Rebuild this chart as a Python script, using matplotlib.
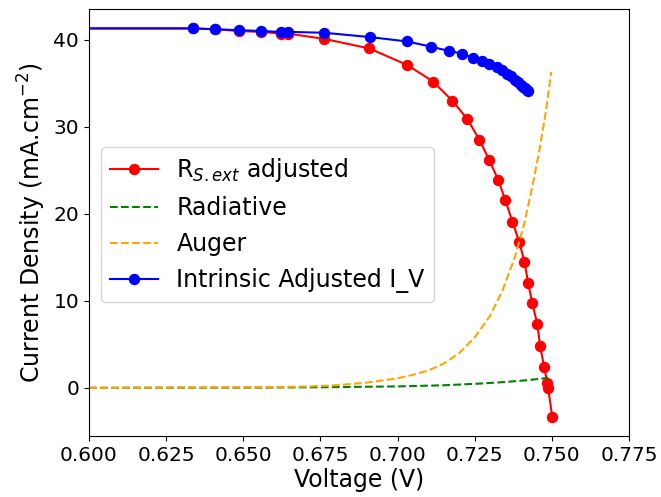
import matplotlib
matplotlib.use("Agg")
import matplotlib.pyplot as plt

# измеренная ВАХ с учётом внешнего последовательного сопротивления
v_rs = [0.0, 0.6337, 0.6409, 0.6486, 0.6558, 0.6623, 0.6645, 0.6762, 0.6908,
        0.7031, 0.7115, 0.7177, 0.7226, 0.7265, 0.7297, 0.7326, 0.7349,
        0.7372, 0.7394, 0.7411, 0.7423, 0.7436, 0.7453, 0.7462, 0.7475,
        0.7485, 0.7488, 0.7501]
j_rs = [41.3, 41.3, 41.2, 41.0, 40.9, 40.7, 40.7, 40.1, 39.0,
        37.1, 35.2, 33.0, 30.9, 28.5, 26.2, 23.9, 21.6,
        19.1, 16.8, 14.5, 12.1, 9.8, 7.3, 4.8, 2.4,
        0.6, 0.0, -3.3]

# собственная (intrinsic) ВАХ
v_int = [0.0, 0.6337, 0.6409, 0.6486, 0.6558, 0.6623, 0.6645, 0.6762, 0.6911,
         0.7031, 0.7109, 0.7167, 0.7209, 0.7245, 0.7274, 0.7297, 0.7323,
         0.7340, 0.7355, 0.7368, 0.7380, 0.7390, 0.7399, 0.7407, 0.7414,
         0.7419, 0.7423]
j_int = [41.3, 41.3, 41.2, 41.1, 41.0, 40.9, 40.9, 40.8, 40.3,
         39.8, 39.2, 38.7, 38.4, 37.9, 37.6, 37.2, 36.9,
         36.5, 36.1, 35.8, 35.4, 35.1, 34.8, 34.6, 34.4,
         34.2, 34.1]

# рекомбинационные токи
v_rad = [0.600, 0.625, 0.650, 0.675, 0.700, 0.715, 0.727, 0.735, 0.742, 0.7488]
j_rad = [0.01, 0.02, 0.03, 0.07, 0.17, 0.30, 0.50, 0.68, 0.88, 1.15]

v_aug = [0.600, 0.640, 0.660, 0.670, 0.680, 0.690, 0.700, 0.705, 0.710,
         0.715, 0.720, 0.725, 0.730, 0.7340, 0.7380, 0.7410, 0.7440,
         0.7460, 0.7480, 0.7498]
j_aug = [0.0, 0.05, 0.1, 0.15, 0.3, 0.6, 1.1, 1.5, 2.0,
         2.8, 4.0, 5.8, 8.3, 11.2, 15.0, 18.8, 23.7,
         27.4, 31.6, 36.3]


def main():
    fig = plt.figure(figsize=(6.61, 4.97), dpi=100)
    ax = fig.add_axes([0.1346, 0.1227, 0.817, 0.8592])

    ax.plot(v_rs, j_rs, 'o-', color='red', markersize=7.2, linewidth=1.5,
            label=r'R$_{S.ext}$ adjusted')
    ax.plot(v_rad, j_rad, '--', color='green', linewidth=1.5, label='Radiative')
    ax.plot(v_aug, j_aug, '--', color='orange', linewidth=1.5, label='Auger')
    ax.plot(v_int, j_int, 'o-', color='blue', markersize=7.2, linewidth=1.5,
            label='Intrinsic Adjusted I_V')

    ax.set_xlim(0.6, 0.775)
    ax.set_xticks([0.600, 0.625, 0.650, 0.675, 0.700, 0.725, 0.750, 0.775])
    ax.set_yticks([0, 10, 20, 30, 40])
    ax.tick_params(labelsize=14.5)

    ax.set_xlabel('Voltage (V)', fontsize=17, labelpad=2)
    ax.set_ylabel(r'Current Density (mA.cm$^{-2}$)', fontsize=17)

    ax.legend(loc='upper left', bbox_to_anchor=(0.022, 0.677), borderaxespad=0,
              fontsize=17)

    fig.savefig('out.png', dpi=100)


if __name__ == "__main__":
    main()
